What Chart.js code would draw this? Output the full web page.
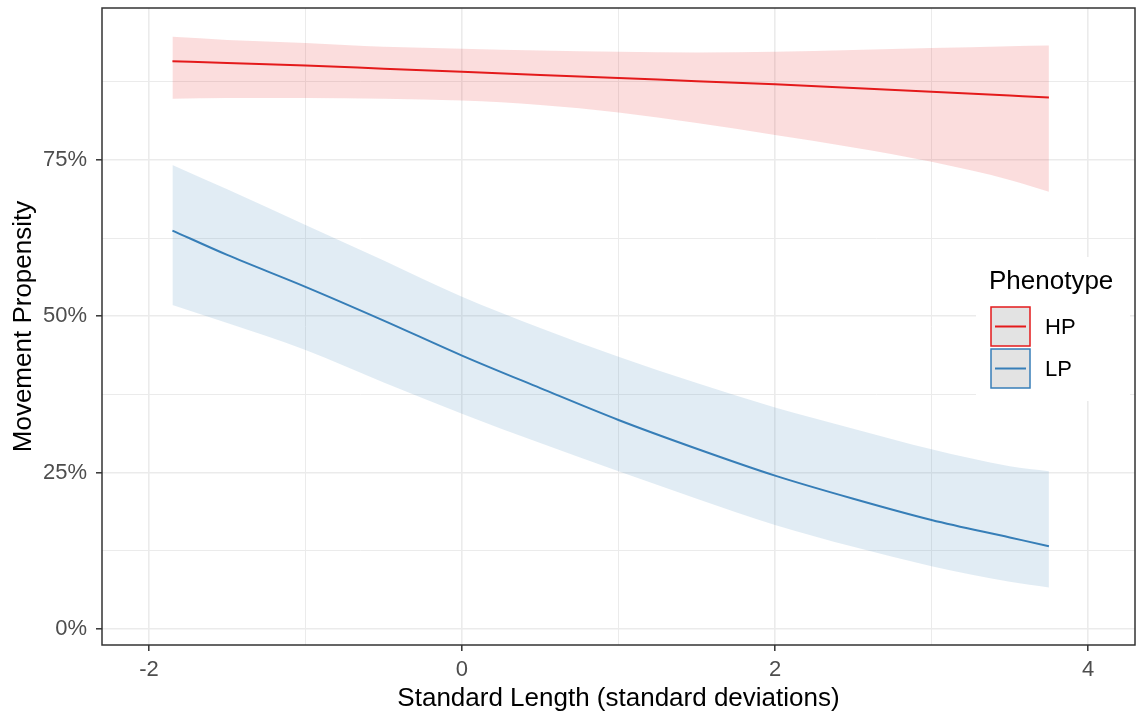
<!DOCTYPE html>
<html>
<head>
<meta charset="utf-8">
<script src="https://cdn.jsdelivr.net/npm/chart.js@4"></script>
<style>
  html, body { margin: 0; padding: 0; background: #fff; }
  #wrap { width: 1138px; height: 718px; }
</style>
</head>
<body>
<div id="wrap"><canvas id="myChart" width="1138" height="718"></canvas></div>
<script>
// standard length (sd) at which predictions were read
const lengths = [-1.85, -1.5, -1, -0.5, 0, 0.5, 1, 1.5, 2, 2.5, 3, 3.5, 3.75];

// HP phenotype: fit and 95% interval (percent)
const hpFit   = [90.8, 90.5, 90.1, 89.6, 89.1, 88.6, 88.1, 87.6, 87.1, 86.5, 85.9, 85.3, 85.0];
const hpUpper = [94.7, 94.2, 93.7, 93.1, 92.8, 92.5, 92.3, 92.2, 92.3, 92.6, 92.9, 93.2, 93.3];
const hpLower = [84.8, 84.9, 84.9, 84.8, 84.5, 83.8, 82.6, 80.9, 79.0, 77.0, 74.7, 71.8, 69.9];

// LP phenotype
const lpFit   = [63.7, 59.8, 54.7, 49.3, 43.7, 38.5, 33.4, 28.8, 24.5, 20.8, 17.4, 14.6, 13.2];
const lpUpper = [74.2, 70.3, 64.6, 58.9, 53.1, 48.1, 43.5, 39.3, 35.4, 32.0, 28.7, 26.0, 25.2];
const lpLower = [51.8, 48.9, 44.6, 39.4, 34.4, 29.7, 25.2, 20.8, 16.6, 13.1, 10.0, 7.5, 6.6];

const xTicks = [-2, -1, 0, 1, 2, 3, 4];
const yTicks = [0, 12.5, 25, 37.5, 50, 62.5, 75, 87.5];
const phenotypes = ['HP', 'LP'];

const RED = '#E41A1C';
const BLUE = '#377EB8';
const FONT = "'Liberation Sans', Arial, sans-serif";

const pts = vals => vals.map((v, i) => ({x: lengths[i], y: v}));

function band(vals, fill, color) {
  return {
    data: pts(vals),
    borderWidth: 0,
    borderColor: 'transparent',
    backgroundColor: color,
    pointRadius: 0,
    fill: fill,
    cubicInterpolationMode: 'monotone'
  };
}

function fitLine(label, vals, color) {
  return {
    label: label,
    data: pts(vals),
    borderColor: color,
    borderWidth: 2,
    pointRadius: 0,
    fill: false,
    cubicInterpolationMode: 'monotone'
  };
}

const data = {
  datasets: [
    band(hpLower, false, 'transparent'),
    band(hpUpper, '-1', 'rgba(228,26,28,0.15)'),
    band(lpLower, false, 'transparent'),
    band(lpUpper, '-1', 'rgba(55,126,184,0.15)'),
    fitLine(phenotypes[0], hpFit, RED),
    fitLine(phenotypes[1], lpFit, BLUE)
  ]
};

// panel border + legend drawn inside the panel
const panelPlugin = {
  id: 'panel',
  afterDraw(chart) {
    const {ctx, chartArea: a} = chart;
    ctx.save();
    ctx.strokeStyle = '#333333';
    ctx.lineWidth = 1.5;
    ctx.strokeRect(a.left, a.top, a.right - a.left, a.bottom - a.top);

    // legend
    ctx.fillStyle = '#ffffff';
    ctx.fillRect(976, 257, 154, 144);
    ctx.fillStyle = '#000000';
    ctx.font = '26px ' + FONT;
    ctx.textBaseline = 'alphabetic';
    ctx.fillText('Phenotype', 989, 289);
    const keys = [[phenotypes[0], RED, 307], [phenotypes[1], BLUE, 349]];
    keys.forEach(([name, col, y]) => {
      ctx.fillStyle = '#E3E3E3';
      ctx.fillRect(991, y, 39, 39);
      ctx.strokeStyle = col;
      ctx.lineWidth = 1.5;
      ctx.strokeRect(991, y, 39, 39);
      ctx.beginPath();
      ctx.lineWidth = 2;
      ctx.moveTo(995, y + 19.5);
      ctx.lineTo(1026, y + 19.5);
      ctx.stroke();
      ctx.fillStyle = '#000000';
      ctx.font = '22px ' + FONT;
      ctx.textBaseline = 'middle';
      ctx.fillText(name, 1045, y + 21);
    });
    ctx.restore();
  }
};

const config = {
  type: 'line',
  data,
  options: {
    responsive: false,
    animation: false,
    layout: {padding: {top: 8, right: 3, left: 0, bottom: 0}},
    plugins: {legend: {display: false}, tooltip: {enabled: false}},
    scales: {
      x: {
        type: 'linear',
        min: -2.3,
        max: 4.3,
        afterBuildTicks: s => { s.ticks = xTicks.map(v => ({value: v})); },
        afterFit: s => { s.height = 73; s.paddingLeft = 0; s.paddingRight = 0; },
        border: {display: false},
        grid: {
          color: '#EBEBEB',
          lineWidth: c => (c.tick && c.tick.value % 2 === 0) ? 1.6 : 1,
          tickColor: c => (c.tick && c.tick.value % 2 === 0) ? '#333333' : 'rgba(0,0,0,0)',
          tickLength: 6,
          tickWidth: 1.5
        },
        ticks: {
          color: '#4D4D4D',
          font: {size: 22, family: FONT},
          padding: 6,
          maxRotation: 0,
          autoSkip: false,
          callback: v => (v % 2 === 0 ? String(v) : '')
        },
        title: {
          display: true,
          text: 'Standard Length (standard deviations)',
          color: '#000000',
          font: {size: 26, family: FONT},
          padding: {top: 0, bottom: 4}
        }
      },
      y: {
        min: -2.6,
        max: 99.3,
        afterBuildTicks: s => { s.ticks = yTicks.map(v => ({value: v})); },
        afterFit: s => { s.width = 102; s.paddingTop = 0; s.paddingBottom = 0; },
        border: {display: false},
        grid: {
          color: '#EBEBEB',
          lineWidth: c => (c.tick && c.tick.value % 25 === 0) ? 1.6 : 1,
          tickColor: c => (c.tick && c.tick.value % 25 === 0) ? '#333333' : 'rgba(0,0,0,0)',
          tickLength: 6,
          tickWidth: 1.5
        },
        ticks: {
          color: '#4D4D4D',
          font: {size: 22, family: FONT},
          padding: 9,
          autoSkip: false,
          callback: v => (v % 25 === 0 ? v + '%' : '')
        },
        title: {
          display: true,
          text: 'Movement Propensity',
          color: '#000000',
          font: {size: 26, family: FONT},
          padding: {top: 8, bottom: 0}
        }
      }
    }
  },
  plugins: [panelPlugin]
};

const myChart = new Chart(document.getElementById('myChart'), config);
</script>
</body>
</html>
